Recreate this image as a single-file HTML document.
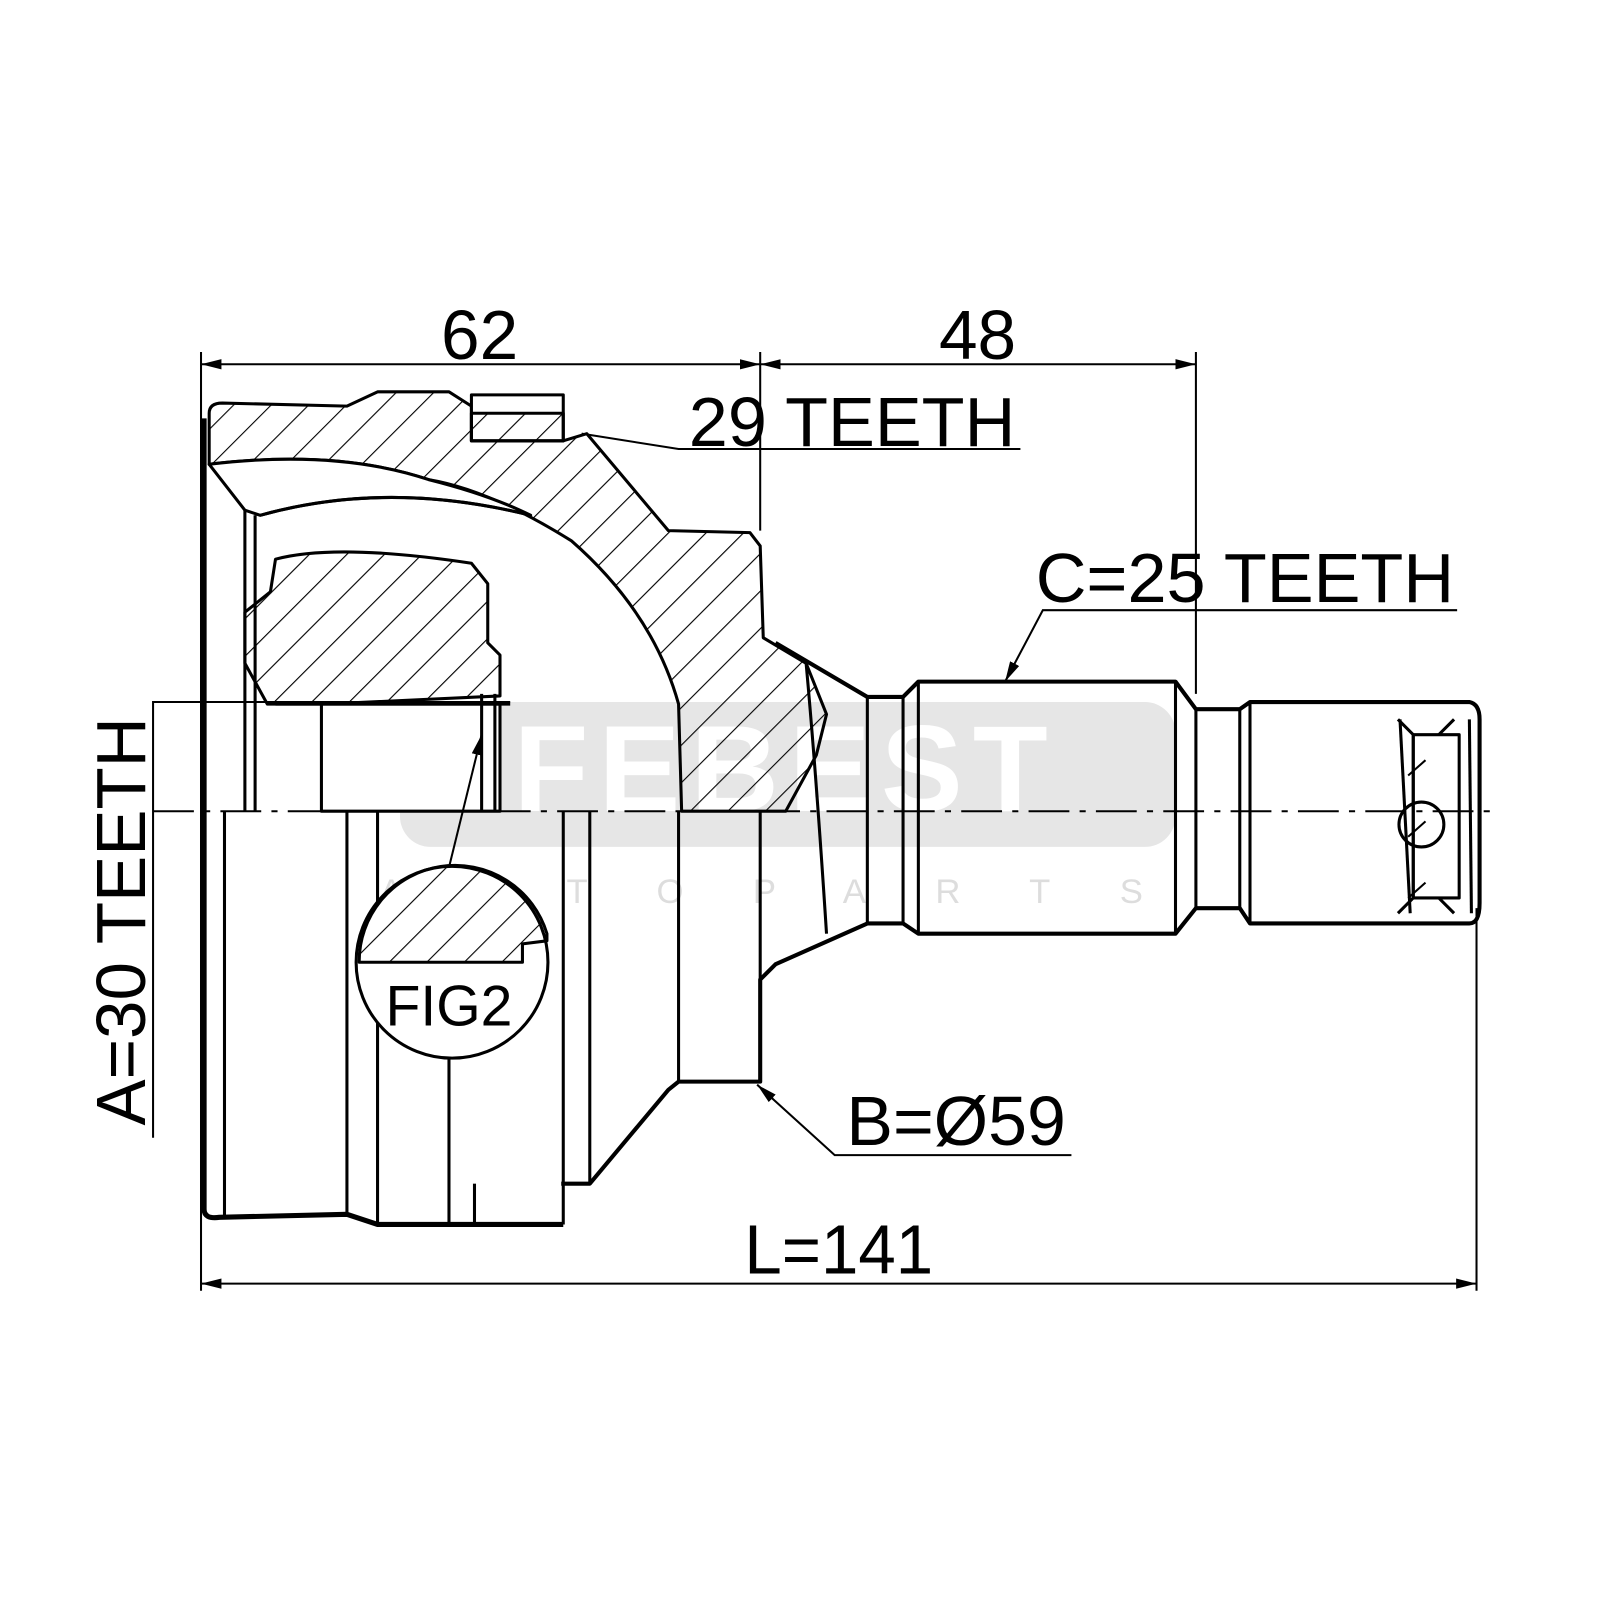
<!DOCTYPE html>
<html><head><meta charset="utf-8"><style>
html,body{margin:0;padding:0;background:#fff;}
svg{display:block;}
text{font-family:"Liberation Sans",Arial,sans-serif;fill:#000;}
</style></head><body>
<svg width="1600" height="1600" viewBox="0 0 1600 1600" xmlns="http://www.w3.org/2000/svg">
<defs>
<pattern id="h" patternUnits="userSpaceOnUse" width="26" height="26" patternTransform="rotate(45)">
<line x1="0" y1="0" x2="0" y2="26" stroke="#000" stroke-width="2.2"/>
</pattern>
<marker id="ar" viewBox="0 0 20 10" refX="20" refY="5" markerWidth="20" markerHeight="10" markerUnits="userSpaceOnUse" orient="auto-start-reverse">
<path d="M0,0 L20,5 L0,10 Z" fill="#000"/>
</marker>
</defs>
<g transform="scale(1.0204)">
<!-- watermark -->
<rect x="392" y="688" width="760" height="142" rx="30" fill="#e6e6e6"/>
<text x="770" y="795" font-size="120" font-weight="bold" text-anchor="middle" style="fill:#fff" letter-spacing="10">FEBEST</text>
<text x="780" y="885" font-size="34" text-anchor="middle" style="fill:#ddd" letter-spacing="68">AUTOPARTS</text>

<g fill="none" stroke="#000" stroke-width="3" stroke-linejoin="round">
<path d="M205,455 L205,405 Q205,395 218,395 L340,398 L370,384 L440,384 L462,398 L462,432 L552,432 L575,425 L655,520 L735,522 L745,535 L748,625 L790,650 L810,700 L800,740 L770,795 L668,795 L665,690 Q640,600 560,530 Q480,480 420,470 Q330,440 205,455 Z" fill="url(#h)"/>
<path d="M205,455 Q330,440 420,470 Q480,485 520,505 Q380,470 255,505 L240,500 Z" fill="#fff" stroke="#000"/>
<path d="M255,505 Q380,470 520,505" />
<line x1="240" y1="500" x2="240" y2="795"/>
<line x1="250" y1="505" x2="250" y2="795"/>
<rect x="462" y="387" width="90" height="45" fill="#fff"/>
<path d="M462,405 L552,405 L552,432 L462,432 Z" fill="url(#h)"/>
<path d="M270,548 Q330,532 462,552 L478,572 L478,630 L490,642 L490,682 L320,690 L262,690 L240,650 L240,600 L265,580 Z" fill="url(#h)"/>
<rect x="315" y="690" width="175" height="105" fill="#fff"/>
<line x1="270" y1="690" x2="500" y2="690"/>
<line x1="472" y1="680" x2="472" y2="795"/>
<line x1="485" y1="680" x2="485" y2="795"/>
<path d="M200,410 L200,1185 Q200,1195 215,1193 L340,1190 L370,1200 L465,1200 L552,1200" stroke-width="5"/>
<line x1="220" y1="795" x2="220" y2="1192"/>
<line x1="340" y1="795" x2="340" y2="1190"/>
<line x1="370" y1="795" x2="370" y2="1200"/>
<line x1="440" y1="1030" x2="440" y2="1200"/>
<line x1="465" y1="1160" x2="465" y2="1200"/>
<line x1="552" y1="795" x2="552" y2="1200"/>
<line x1="578" y1="795" x2="578" y2="1160"/>
<line x1="665" y1="795" x2="665" y2="1060"/>
<line x1="745" y1="795" x2="745" y2="1060"/>
<path d="M550,1160 L578,1160 L655,1068 L665,1060 L745,1060 L745,960 L760,945 L850,905" stroke-width="4"/>
<path d="M790,650 Q800,760 810,915"/>
<path d="M760,630 L850,683 L885,683 L900,668 L1152,668 L1172,695 L1215,695 L1225,688 L1440,688 Q1450,690 1450,705 L1450,885 Q1450,905 1440,905 L1225,905 L1215,890 L1172,890 L1152,915 L900,915 L885,905 L850,905" stroke-width="4"/>
<line x1="850" y1="683" x2="850" y2="905"/>
<line x1="885" y1="683" x2="885" y2="905"/>
<line x1="900" y1="668" x2="900" y2="915"/>
<line x1="1152" y1="668" x2="1152" y2="915"/>
<line x1="1172" y1="695" x2="1172" y2="890"/>
<line x1="1215" y1="695" x2="1215" y2="890"/>
<line x1="1225" y1="688" x2="1225" y2="905"/>
<path d="M1370,705 L1385,720 L1385,880 L1370,895 M1410,720 L1425,705 M1410,880 L1425,895"/>
<rect x="1385" y="720" width="45" height="160"/>
<line x1="1372" y1="705" x2="1382" y2="895"/>
<line x1="1440" y1="705" x2="1442" y2="895"/>
<circle cx="1393" cy="808" r="22"/>
<path d="M1380,760 L1397,745 M1380,820 L1397,805 M1380,880 L1397,865" stroke-width="2"/>
<circle cx="443" cy="943" r="94" fill="#fff"/>
<path d="M352,943 A94,94 0 0 1 536,915 L536,922 L512,925 L512,943 Z" fill="url(#h)"/>
</g>

<line x1="150" y1="795" x2="1462" y2="795" stroke="#000" stroke-width="2" stroke-dasharray="40,10,6,10"/>

<g stroke="#000" stroke-width="2" fill="none">
<line x1="197" y1="345" x2="197" y2="1265"/>
<line x1="745" y1="345" x2="745" y2="520"/>
<line x1="1172" y1="345" x2="1172" y2="680"/>
<line x1="1447" y1="890" x2="1447" y2="1265"/>
<line x1="197" y1="357" x2="745" y2="357" marker-start="url(#ar)" marker-end="url(#ar)"/>
<line x1="745" y1="357" x2="1172" y2="357" marker-start="url(#ar)" marker-end="url(#ar)"/>
<line x1="197" y1="1258" x2="1447" y2="1258" marker-start="url(#ar)" marker-end="url(#ar)"/>
<polyline points="1000,440 665,440 570,425"/>
<polyline points="1428,598 1022,598 985,668" marker-end="url(#ar)"/>
<polyline points="1050,1132 818,1132 742,1063" marker-end="url(#ar)"/>
<polyline points="500,688 150,688 150,1115"/>
<line x1="440" y1="850" x2="472" y2="720" marker-end="url(#ar)"/>
</g>

<g font-size="68">
<text x="470" y="352" text-anchor="middle">62</text>
<text x="958" y="352" text-anchor="middle">48</text>
<text x="835" y="437" text-anchor="middle" textLength="320" lengthAdjust="spacingAndGlyphs">29 TEETH</text>
<text x="1220" y="590" text-anchor="middle" textLength="410" lengthAdjust="spacingAndGlyphs">C=25 TEETH</text>
<text x="937" y="1122" text-anchor="middle" textLength="215" lengthAdjust="spacingAndGlyphs">B=Ø59</text>
<text x="822" y="1248" text-anchor="middle" textLength="185" lengthAdjust="spacingAndGlyphs">L=141</text>
<text x="440" y="1005" text-anchor="middle" font-size="56">FIG2</text>
<text transform="translate(142,903) rotate(-90)" text-anchor="middle" textLength="400" lengthAdjust="spacingAndGlyphs">A=30 TEETH</text>
</g>
</g>
</svg>
</body></html>
